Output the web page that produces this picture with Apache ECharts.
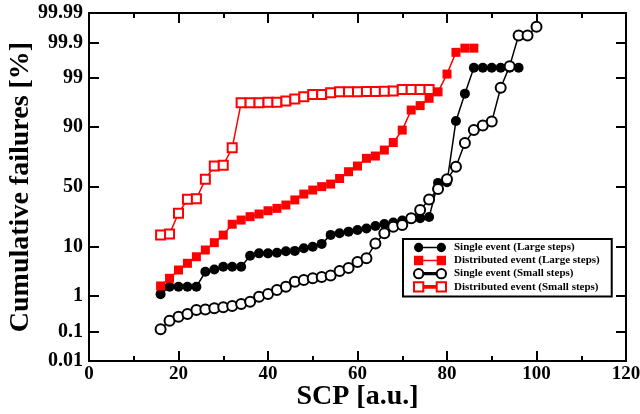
<!DOCTYPE html>
<html>
<head>
<meta charset="utf-8">
<script src="https://cdn.jsdelivr.net/npm/echarts@6/dist/echarts.min.js"></script>
<style>html,body{margin:0;padding:0;background:#fff}#c{width:640px;height:414px}</style>
</head>
<body>
<div id="c"></div>
<script>
// ---- data (x = SCP [a.u.], y = cumulative failures [%]) ----
const xSingleLarge = [16,18,20,22,24,26,28,30,32,34,36,38,40,42,44,46,48,50,52,54,56,58,60,62,64,66,68,70,72,74,76,78,80,82,84,86,88,90,92,94,96];
const ySingleLarge = [1.1,1.65,1.65,1.65,1.65,3.5,3.9,4.4,4.4,4.4,7.1,7.8,7.8,8.0,8.5,8.6,9.5,10.1,11.2,15.3,16.1,17.0,17.9,18.8,20.2,21.5,22.4,23.7,24.7,25.2,26.1,53.5,54,92.1,97.7,99.46,99.46,99.46,99.46,99.46,99.46];

const xDistLarge = [16,18,20,22,24,26,28,30,32,34,36,38,40,42,44,46,48,50,52,54,56,58,60,62,64,66,68,70,72,74,76,78,80,82,84,86];
const yDistLarge = [1.72,2.55,3.8,5.15,6.8,8.9,11.7,15.2,21.3,24.0,26.3,28.2,30.6,32.4,35.0,39.1,44.0,47.4,50.3,52.5,57.2,62.8,67.3,73.0,74.6,78.5,82.9,88.8,95.0,95.9,97.1,97.9,99.21,99.80,99.85,99.85];

const xSingleSmall = [16,18,20,22,24,26,28,30,32,34,36,38,40,42,44,46,48,50,52,54,56,58,60,62,64,66,68,70,72,74,76,78,80,82,84,86,88,90,92,94,96,98,100];
const ySingleSmall = [0.118,0.214,0.279,0.332,0.428,0.44,0.477,0.507,0.55,0.62,0.71,0.95,1.11,1.39,1.65,2.15,2.34,2.55,2.72,2.93,3.63,4.17,5.45,6.4,11.4,16.1,19.8,20.8,25.2,31.1,39.5,48.3,56.5,66.8,82.6,88.8,90.6,91.9,98.31,99.51,99.94,99.94,99.969];

const xDistSmall = [16,18,20,22,24,26,28,30,32,34,36,38,40,42,44,46,48,50,52,54,56,58,60,62,64,66,68,70,72,74,76];
const yDistSmall = [15.2,15.8,28.7,39.6,40.1,56.5,67.3,67.9,79.9,96.4,96.4,96.4,96.5,96.5,96.7,97.0,97.3,97.6,97.6,97.8,97.9,97.9,97.9,97.94,97.94,97.97,98.0,98.14,98.14,98.14,98.14];

const yTickPercents = [0.01,0.1,1,10,50,90,99,99.9,99.99];
const yTickLabels = ['0.01','0.1','1','10','50','90','99','99.9','99.99'];

const seriesNames = ['Single event (Large steps)','Distributed event (Large steps)','Single event (Small steps)','Distributed event (Small steps)'];

// ---- normal probability (probit) transform ----
function probit(p){
  const a=[-3.969683028665376e+01,2.209460984245205e+02,-2.759285104469687e+02,1.383577518672690e+02,-3.066479806614716e+01,2.506628277459239e+00];
  const b=[-5.447609879822406e+01,1.615858368580409e+02,-1.556989798598866e+02,6.680131188771972e+01,-1.328068155288572e+01];
  const c=[-7.784894002430293e-03,-3.223964580411365e-01,-2.400758277161838e+00,-2.549671348283508e+00,4.374664141464968e+00,2.938163982698783e+00];
  const d=[7.784695709041462e-03,3.224671290700398e-01,2.445134137142996e+00,3.754408661907416e+00];
  const pl=0.02425, ph=1-pl; let q,r;
  if(p<pl){q=Math.sqrt(-2*Math.log(p));return (((((c[0]*q+c[1])*q+c[2])*q+c[3])*q+c[4])*q+c[5])/((((d[0]*q+d[1])*q+d[2])*q+d[3])*q+1);}
  if(p<=ph){q=p-0.5;r=q*q;return (((((a[0]*r+a[1])*r+a[2])*r+a[3])*r+a[4])*r+a[5])*q/(((((b[0]*r+b[1])*r+b[2])*r+b[3])*r+b[4])*r+1);}
  q=Math.sqrt(-2*Math.log(1-p));return -(((((c[0]*q+c[1])*q+c[2])*q+c[3])*q+c[4])*q+c[5])/((((d[0]*q+d[1])*q+d[2])*q+d[3])*q+1);
}
const tr = v => probit(v/100);
const pairs = (xs, ys) => xs.map((x,i)=>[x, tr(ys[i])]);
const yTickVals = yTickPercents.map(tr);
const yMin = yTickVals[0], yMax = yTickVals[yTickVals.length-1];
function yLabel(v){
  for(let i=0;i<yTickVals.length;i++){ if(Math.abs(yTickVals[i]-v)<1e-6) return yTickLabels[i]; }
  return '';
}

const FONT = 'Liberation Serif';
const axisLine = {show:true, onZero:false, lineStyle:{color:'#000', width:2}};

const xBase = {
  type:'value', min:0, max:120, interval:20,
  axisLine: axisLine,
  axisTick:{show:true, inside:true, length:10, lineStyle:{color:'#000', width:2}},
  minorTick:{show:true, splitNumber:2, length:5, lineStyle:{color:'#000', width:2}},
  splitLine:{show:false}, minorSplitLine:{show:false}
};
const yBase = {
  type:'value', min:yMin, max:yMax,
  axisLine: axisLine,
  axisTick:{show:true, inside:true, length:10, customValues:yTickVals, lineStyle:{color:'#000', width:2}},
  splitLine:{show:false}
};

const circlePath = 'path://M0.5,5a4.5,4.5 0 1,0 9,0a4.5,4.5 0 1,0 -9,0Z M22.5,5a4.5,4.5 0 1,0 9,0a4.5,4.5 0 1,0 -9,0Z M9.5,4.3H22.5V5.7H9.5Z';
const squarePath = 'path://M0.5,0.5H9.5V9.5H0.5Z M22.5,0.5H31.5V9.5H22.5Z M9.5,4.2H22.5V5.8H9.5Z';

const option = {
  animation:false,
  backgroundColor:'#fff',
  grid:{left:89, right:14, top:13, bottom:53, show:false, containLabel:false, outerBoundsMode:'none'},
  xAxis:[
    Object.assign({}, xBase, {
      position:'bottom',
      name:'SCP [a.u.]', nameLocation:'middle', nameGap:22, nameMoveOverlap:false,
      nameTextStyle:{fontFamily:FONT, fontWeight:'bold', fontSize:28, color:'#000', verticalAlign:'top'},
      axisLabel:{show:true, margin:4, fontFamily:FONT, fontWeight:'bold', fontSize:19, color:'#000'}
    }),
    Object.assign({}, xBase, {position:'top', axisLabel:{show:false}})
  ],
  yAxis:[
    Object.assign({}, yBase, {
      position:'left',
      name:'Cumulative failures [%]', nameLocation:'middle', nameGap:54, nameMoveOverlap:false,
      nameTextStyle:{fontFamily:FONT, fontWeight:'bold', fontSize:28, color:'#000'},
      axisLabel:{show:true, margin:6, customValues:yTickVals, formatter:yLabel, fontFamily:FONT, fontWeight:'bold', fontSize:20, color:'#000'}
    }),
    Object.assign({}, yBase, {position:'right', axisLabel:{show:false}})
  ],
  legend:{
    orient:'vertical', left:403, top:239,
    padding:[3,12,4,10], itemGap:2, itemWidth:32, itemHeight:10,
    backgroundColor:'#fff', borderColor:'#000', borderWidth:2, borderRadius:0,
    textStyle:{fontFamily:FONT, fontWeight:'bold', fontSize:11, color:'#000', padding:[0,0,0,3]},
    data:[
      {name:seriesNames[0], icon:circlePath, itemStyle:{color:'#000', borderWidth:0}},
      {name:seriesNames[1], icon:squarePath, itemStyle:{color:'#ff0000', borderWidth:0}},
      {name:seriesNames[2], icon:circlePath, itemStyle:{color:'#fff', borderColor:'#000', borderWidth:2}},
      {name:seriesNames[3], icon:squarePath, itemStyle:{color:'#fff', borderColor:'#ff0000', borderWidth:2}}
    ]
  },
  series:[
    {name:seriesNames[0], type:'line', data:pairs(xSingleLarge, ySingleLarge),
     symbol:'circle', symbolSize:10, lineStyle:{color:'#000', width:1.5},
     itemStyle:{color:'#000'}},
    {name:seriesNames[1], type:'line', data:pairs(xDistLarge, yDistLarge),
     symbol:'rect', symbolSize:9, lineStyle:{color:'#ff0000', width:1.5},
     itemStyle:{color:'#ff0000'}},
    {name:seriesNames[2], type:'line', data:pairs(xSingleSmall, ySingleSmall),
     symbol:'circle', symbolSize:10, lineStyle:{color:'#000', width:1.5},
     itemStyle:{color:'#fff', borderColor:'#000', borderWidth:2}},
    {name:seriesNames[3], type:'line', data:pairs(xDistSmall, yDistSmall),
     symbol:'rect', symbolSize:9, lineStyle:{color:'#ff0000', width:1.5},
     itemStyle:{color:'#fff', borderColor:'#ff0000', borderWidth:2}}
  ]
};
const chart = echarts.init(document.getElementById('c'), null, {renderer:'canvas'});
chart.setOption(option);
</script>
</body>
</html>
